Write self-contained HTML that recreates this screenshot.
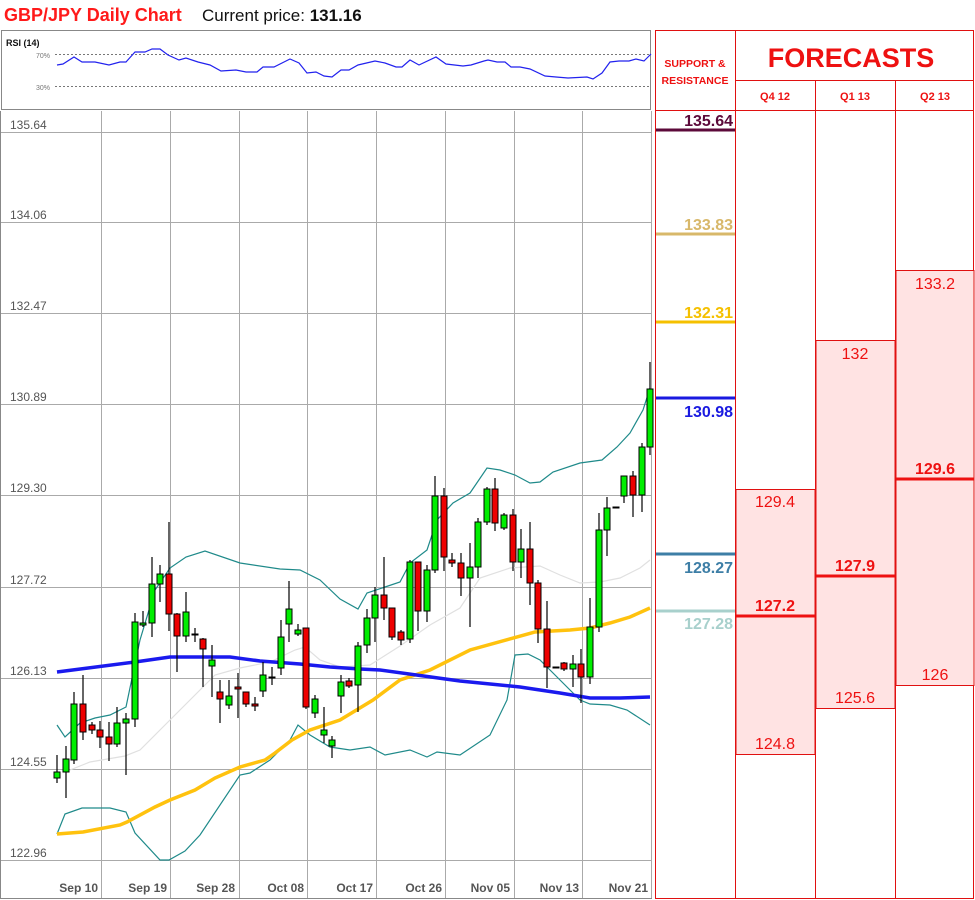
<!DOCTYPE html>
<html><head><meta charset="utf-8">
<style>
html,body{margin:0;padding:0;background:#fff;}
body{width:975px;height:900px;position:relative;overflow:hidden;font-family:"Liberation Sans",sans-serif;}
svg{position:absolute;left:0;top:0;}
</style></head>
<body>
<svg id="s" width="975" height="900" viewBox="0 0 975 900" xmlns="http://www.w3.org/2000/svg" font-family="Liberation Sans, sans-serif">
<text x="4" y="21" font-size="18" font-weight="bold" fill="#ff1a1a">GBP/JPY Daily Chart</text>
<text x="202" y="21" font-size="17" fill="#111">Current price: <tspan font-weight="bold">131.16</tspan></text>
<!-- RSI box -->
<rect x="1.5" y="30.5" width="649" height="79" fill="#fff" stroke="#888" stroke-width="1"/>
<text x="6" y="46" font-size="9" font-weight="bold" fill="#111">RSI (14)</text>
<line x1="55" y1="54.5" x2="650" y2="54.5" stroke="#777" stroke-dasharray="2,2"/>
<line x1="55" y1="86.5" x2="650" y2="86.5" stroke="#777" stroke-dasharray="2,2"/>
<text x="36" y="58" font-size="7" fill="#777">70%</text>
<text x="36" y="90" font-size="7" fill="#777">30%</text>
<polyline fill="none" stroke="#2222ee" stroke-width="1.2" points="57,65 63,64 74,57 82,62 95,62 109,65 120,62 126,62 135,52 145,52 152,49 160,49 168,55 179,60 186,58 198,62 210,65 221,71 236,70 246,72 257,72 263,67 274,67 290,59 299,63 307,73 316,72 324,76 332,77 341,70 349,70 358,65 375,61 385,63 396,67 402,67 410,60 419,65 436,57 446,64 463,66 471,65 484,61 488,60 497,62 505,62 511,67 520,67 530,69 545,76 556,77 568,78 587,77 593,79 602,73 610,62 619,61 629,61 636,59 644,61 651,54"/>
<!-- main plot -->
<g id="grid" stroke="#aaa" stroke-width="1"></g>
<line x1="0.5" y1="111" x2="0.5" y2="898" stroke="#888"/>
<line x1="0" y1="898.5" x2="652" y2="898.5" stroke="#888"/>
<g font-size="12" fill="#555">
<text x="10" y="129">135.64</text><text x="10" y="219">134.06</text><text x="10" y="310">132.47</text><text x="10" y="401">130.89</text><text x="10" y="492">129.30</text><text x="10" y="584">127.72</text><text x="10" y="675">126.13</text><text x="10" y="766">124.55</text><text x="10" y="857">122.96</text>
</g>
<g font-size="12" font-weight="bold" fill="#555" text-anchor="end">
<text x="98" y="892">Sep 10</text><text x="167" y="892">Sep 19</text><text x="235" y="892">Sep 28</text><text x="304" y="892">Oct 08</text><text x="373" y="892">Oct 17</text><text x="442" y="892">Oct 26</text><text x="510" y="892">Nov 05</text><text x="579" y="892">Nov 13</text><text x="648" y="892">Nov 21</text>
</g>
<polyline fill="none" stroke="#e0e0e0" stroke-width="1.2" points="70,770 90,762 125,756 140,750 170,720 200,690 215,675 240,668 270,662 295,650 305,647 320,660 340,667 370,665 400,646 430,625 460,608 480,578 510,568 540,566 560,575 580,583 600,582 620,578 640,568 650,560"/>
<polyline fill="none" stroke="#1f8a8a" stroke-width="1.2" points="57,725 65,737 80,723 95,718 110,715 126,707 140,640 155,590 170,568 186,557 205,551 240,563 280,569 300,570 320,580 340,599 358,609 367,593 385,587 400,582 410,563 427,550 437,520 453,503 470,493 487,468 500,470 515,475 530,483 540,482 553,472 580,463 602,460 617,447 630,433 643,410 650,388"/>
<polyline fill="none" stroke="#1f8a8a" stroke-width="1.2" points="57,834 65,814 82,808 110,808 126,812 135,833 160,860 169,860 185,851 200,835 240,775 250,773 270,760 290,740 298,725 310,735 330,747 350,750 370,747 385,755 410,750 427,757 437,752 460,755 490,735 507,700 515,655 528,654 540,660 560,680 580,700 590,704 610,705 627,710 650,725"/>
<polyline fill="none" stroke="#ffc20e" stroke-width="3.5" points="57,834 83,832 120,825 127,822 155,807 170,800 195,790 215,778 240,767 265,760 275,753 292,740 310,730 340,720 373,700 400,680 430,670 470,650 535,632 570,630 590,628 610,623 630,617 650,608"/>
<polyline fill="none" stroke="#1a1aee" stroke-width="3.5" points="57,672 135,662 170,657 230,657 260,661 300,664 330,667 360,669 380,670 460,681 520,687 560,693 590,698 620,698 650,697"/>
<g id="candles"></g>
<!-- table -->
<g stroke="#e01010" stroke-width="1" fill="none">
<rect x="655.5" y="30.5" width="318" height="868"/>
<line x1="735.5" y1="30" x2="735.5" y2="899"/>
<line x1="735" y1="80.5" x2="974" y2="80.5"/>
<line x1="655" y1="110.5" x2="974" y2="110.5"/>
<line x1="815.5" y1="80" x2="815.5" y2="899"/>
<line x1="895.5" y1="80" x2="895.5" y2="899"/>
</g>
<g fill="#ffe3e3" stroke="#e01010" stroke-width="1">
<rect x="736" y="489.5" width="79" height="265"/>
<rect x="816" y="340.5" width="79" height="368"/>
<rect x="896" y="270.5" width="78" height="415"/>
</g>
<g fill="#ee1111" font-weight="bold" text-anchor="middle">
<text x="695" y="67" font-size="10.5">SUPPORT &amp;</text>
<text x="695" y="84" font-size="10.5">RESISTANCE</text>
<text x="851" y="67" font-size="27">FORECASTS</text>
<text x="775" y="100" font-size="11">Q4 12</text>
<text x="855" y="100" font-size="11">Q1 13</text>
<text x="935" y="100" font-size="11">Q2 13</text>
</g>
<g stroke-width="3">
<line x1="656" y1="130" x2="735" y2="130" stroke="#5c0a3a"/>
<line x1="656" y1="234" x2="735" y2="234" stroke="#d8b86a"/>
<line x1="656" y1="322" x2="735" y2="322" stroke="#f5c000"/>
<line x1="656" y1="398" x2="735" y2="398" stroke="#1a1ae0"/>
<line x1="656" y1="554" x2="735" y2="554" stroke="#3d7ea6"/>
<line x1="656" y1="611" x2="735" y2="611" stroke="#a8d0cc"/>
<line x1="736" y1="616" x2="815" y2="616" stroke="#ee1111"/>
<line x1="816" y1="576" x2="895" y2="576" stroke="#ee1111"/>
<line x1="896" y1="479" x2="974" y2="479" stroke="#ee1111"/>
</g>
<g font-size="16" font-weight="bold" text-anchor="end">
<text x="733" y="126" fill="#5c0a3a">135.64</text>
<text x="733" y="230" fill="#d8b86a">133.83</text>
<text x="733" y="318" fill="#f5c000">132.31</text>
<text x="733" y="417" fill="#1a1ae0">130.98</text>
<text x="733" y="573" fill="#3d7ea6">128.27</text>
<text x="733" y="629" fill="#a8d0cc">127.28</text>
</g>
<g font-size="16" fill="#ee1111" text-anchor="middle">
<text x="775" y="507">129.4</text>
<text x="775" y="611" font-weight="bold">127.2</text>
<text x="775" y="749">124.8</text>
<text x="855" y="359">132</text>
<text x="855" y="571" font-weight="bold">127.9</text>
<text x="855" y="703">125.6</text>
<text x="935" y="289">133.2</text>
<text x="935" y="474" font-weight="bold">129.6</text>
<text x="935" y="680">126</text>
</g>
</svg>
<script>
var NS="http://www.w3.org/2000/svg";
function el(p,t,a){var e=document.createElementNS(NS,t);for(var k in a)e.setAttribute(k,a[k]);p.appendChild(e);return e;}
var g=document.getElementById("grid");
[132,222,313,404,495,587,678,769,860].forEach(function(y){el(g,"line",{x1:0,y1:y+.5,x2:651,y2:y+.5});});
[101,170,239,307,376,445,514,582,651].forEach(function(x){el(g,"line",{x1:x+.5,y1:111,x2:x+.5,y2:898});});
var C=[[57,772,778,755,783,'g'],[66,759,772,746,798,'g'],[74,704,760,692,764,'g'],[83,704,732,675,740,'r'],[92,725,730,722,734,'r'],[100,730,737,721,748,'r'],[109,737,744,722,761,'r'],[117,723,744,707,747,'g'],[126,719,723,713,775,'g'],[135,622,719,613,727,'g'],[143,623,625,611,627,'g'],[152,584,623,557,637,'g'],[160,574,584,565,602,'g'],[169,574,614,522,631,'r'],[177,614,636,613,672,'r'],[186,612,636,592,642,'g'],[195,634,635,628,642,'k'],[203,639,649,638,687,'r'],[212,660,666,645,697,'g'],[220,692,699,680,723,'r'],[229,696,705,680,709,'g'],[238,687,689,673,718,'r'],[246,692,704,692,707,'r'],[255,704,706,697,711,'r'],[263,675,691,662,697,'g'],[272,677,678,667,685,'k'],[281,637,668,620,675,'g'],[289,609,624,581,642,'g'],[298,630,634,624,636,'g'],[306,628,707,628,709,'r'],[315,699,713,695,718,'g'],[324,730,735,707,743,'g'],[332,740,746,736,758,'g'],[341,682,696,675,713,'g'],[349,681,686,678,688,'r'],[358,646,685,642,712,'g'],[367,618,645,609,653,'g'],[375,595,618,587,642,'g'],[384,595,608,557,620,'r'],[392,608,637,608,640,'r'],[401,632,640,630,645,'r'],[410,562,639,560,643,'g'],[418,562,611,562,631,'r'],[427,570,611,565,622,'g'],[435,496,570,476,573,'g'],[444,496,557,488,571,'r'],[452,560,563,553,567,'r'],[461,563,578,553,596,'r'],[470,567,578,543,627,'g'],[478,522,567,518,578,'g'],[487,489,522,487,525,'g'],[495,489,523,478,531,'r'],[504,515,528,513,530,'g'],[513,515,562,509,571,'r'],[521,549,562,529,578,'g'],[530,549,583,522,605,'r'],[538,583,629,580,643,'r'],[547,629,667,601,688,'r'],[556,667,668,667,668,'k'],[564,663,669,662,671,'r'],[573,664,669,655,687,'g'],[581,664,677,649,703,'r'],[590,627,677,598,684,'g'],[599,530,627,513,632,'g'],[607,508,530,497,556,'g'],[616,507,508,507,508,'k'],[624,476,496,476,503,'g'],[633,476,495,471,517,'r'],[642,447,495,443,512,'g'],[650,389,447,362,455,'g']];
var cg=document.getElementById("candles");
C.forEach(function(c){var x=c[0];
el(cg,"line",{x1:x,y1:c[3],x2:x,y2:c[4],stroke:"#000","stroke-width":1.2});
var h=Math.max(c[2]-c[1],1);
var f=c[5]=='g'?'#00ee00':c[5]=='r'?'#ee0000':'#000';
el(cg,"rect",{x:x-3,y:c[1],width:6,height:h,fill:f,stroke:"#000","stroke-width":1});});
</script>
</body></html>
